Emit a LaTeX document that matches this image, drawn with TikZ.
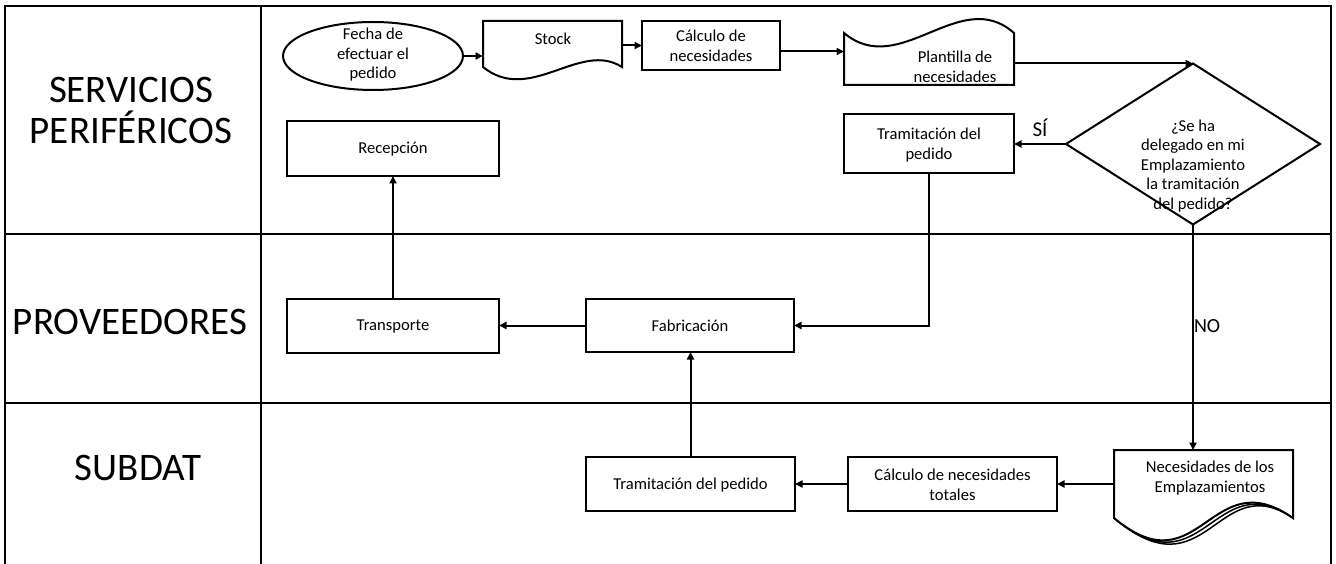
\documentclass[tikz,border=0pt]{standalone}
\usepackage{fontspec}
\setmainfont{Carlito}
\usetikzlibrary{arrows.meta,shapes.geometric}
\begin{document}
\begin{tikzpicture}[x=1pt,y=-1pt,
  every node/.style={inner sep=0pt, outer sep=0pt},
  shapeline/.style={draw=black, line width=2pt},
  procbox/.style={shapeline, rectangle},
  holder/.style={rectangle, draw=none},
  txt/.style={font=\fontsize{16.6}{19.5}\selectfont, align=center},
  lane/.style={font=\fontsize{39}{41}\selectfont, align=center},
  flow/.style={line width=2pt, -{Triangle[length=7.5pt,width=7pt]}},
  frame/.style={line width=2.2pt}
]
\useasboundingbox (0,0) rectangle (1336,564);

% swimlane frame
\draw[frame] (5,564) -- (5,6) -- (1331,6) -- (1331,564);
\draw[frame] (5,234) -- (1331,234);
\draw[frame] (5,403) -- (1331,403);
\draw[frame] (261,6) -- (261,564);

% lane titles
\node[lane] (laneA) at (131,110) {SERVICIOS\\PERIFÉRICOS};
\node[lane] (laneB) at (130,322) {PROVEEDORES};
\node[lane] (laneC) at (138,468) {SUBDAT};

% top lane: start event
\node[ellipse, shapeline, minimum width=180, minimum height=68] (fecha) at (373,56) {};
\node[txt] (tfecha) at (373,55) {Fecha de\\efectuar el\\pedido};

% stock: document with wavy bottom
\node[holder, minimum width=139, minimum height=46] (stock) at (552.5,44) {};
\draw[shapeline] (stock.north west) -- (stock.north east) -- (stock.south east)
  .. controls (580,40) and (530,105) .. (stock.south west) -- cycle;
\node[txt] (tstock) at (553,39) {Stock};

\node[procbox, minimum width=138, minimum height=49] (calc) at (711,45.5) {};
\node[txt] (tcalc) at (711,46) {Cálculo de\\necesidades};

% template: document with wavy top
\node[holder, minimum width=170, minimum height=52] (plant) at (929,59) {};
\draw[shapeline] (plant.south west) -- (plant.south east) -- (plant.north east)
  .. controls (960,-15) and (900,80) .. (plant.north west) -- cycle;
\node[txt] (tplant) at (955,67) {Plantilla de\\necesidades};

% decision
\node[diamond, shapeline, minimum width=254, minimum height=161] (dec) at (1193,144) {};
\node[txt] (tdec) at (1193,166) {¿Se ha\\delegado en mi\\Emplazamiento\\la tramitación\\del pedido?};

\node[procbox, minimum width=170, minimum height=59] (tram) at (929,143.5) {};
\node[txt] (ttram) at (929,145) {Tramitación del\\pedido};

\node[procbox, minimum width=212, minimum height=55] (recep) at (393,148.5) {};
\node[txt] (trecep) at (393,149) {Recepción};

% middle lane
\node[procbox, minimum width=212, minimum height=54] (transp) at (393,326) {};
\node[txt] (ttransp) at (393,327) {Transporte};

\node[procbox, minimum width=208, minimum height=53] (fab) at (690,325.5) {};
\node[txt] (tfab) at (690,326) {Fabricación};

% bottom lane
\node[procbox, minimum width=209, minimum height=54] (tramb) at (690.5,484) {};
\node[txt] (ttramb) at (690.5,485) {Tramitación del pedido};

\node[procbox, minimum width=209, minimum height=54] (tot) at (952.5,484) {};
\node[txt] (ttot) at (952.5,485) {Cálculo de necesidades\\totales};

% multi-document
\node[holder, minimum width=179, minimum height=68] (nec) at (1203.5,484) {};
\foreach \d in {7,3.5}{
  \begin{scope}[shift={(\d,\d)}]
    \draw[draw=black, line width=1.5pt, fill=white] (nec.north west) -- (nec.north east) -- (nec.south east)
      .. controls (1210,460) and (1200,590) .. (nec.south west) -- cycle;
  \end{scope}
}
\draw[shapeline, fill=white] (nec.north west) -- (nec.north east) -- (nec.south east)
  .. controls (1210,460) and (1200,590) .. (nec.south west) -- cycle;
\node[txt] (tnec) at (1210,478) {Necesidades de los\\Emplazamientos};

% connectors
\draw[flow] (fecha.east) -- (fecha.east -| stock.west);
\draw[flow] (calc.west -| stock.east) -- (calc.west);
\draw[flow] ([yshift=-6pt]calc.east) -- ([yshift=-6pt]calc.east -| plant.west);
\draw[flow] (plant.east |- dec.north) -- (dec.north);
\draw[flow] (dec.west) -- (dec.west -| tram.east)
  node[midway, above=7pt, font=\fontsize{21}{24}\selectfont] (si) {SÍ};
\draw[flow] (tram.south) |- (fab.east);
\draw[flow] (dec.south) -- (dec.south |- nec.north)
  node[pos=0.45, right=1pt, font=\fontsize{20}{22}\selectfont] (no) {NO};
\draw[flow] (nec.west) -- (nec.west -| tot.east);
\draw[flow] (tot.west) -- (tramb.east);
\draw[flow] (tramb.north) -- (tramb.north |- fab.south);
\draw[flow] (fab.west) -- (fab.west -| transp.east);
\draw[flow] (transp.north) -- (recep.south);
\end{tikzpicture}
\end{document}
